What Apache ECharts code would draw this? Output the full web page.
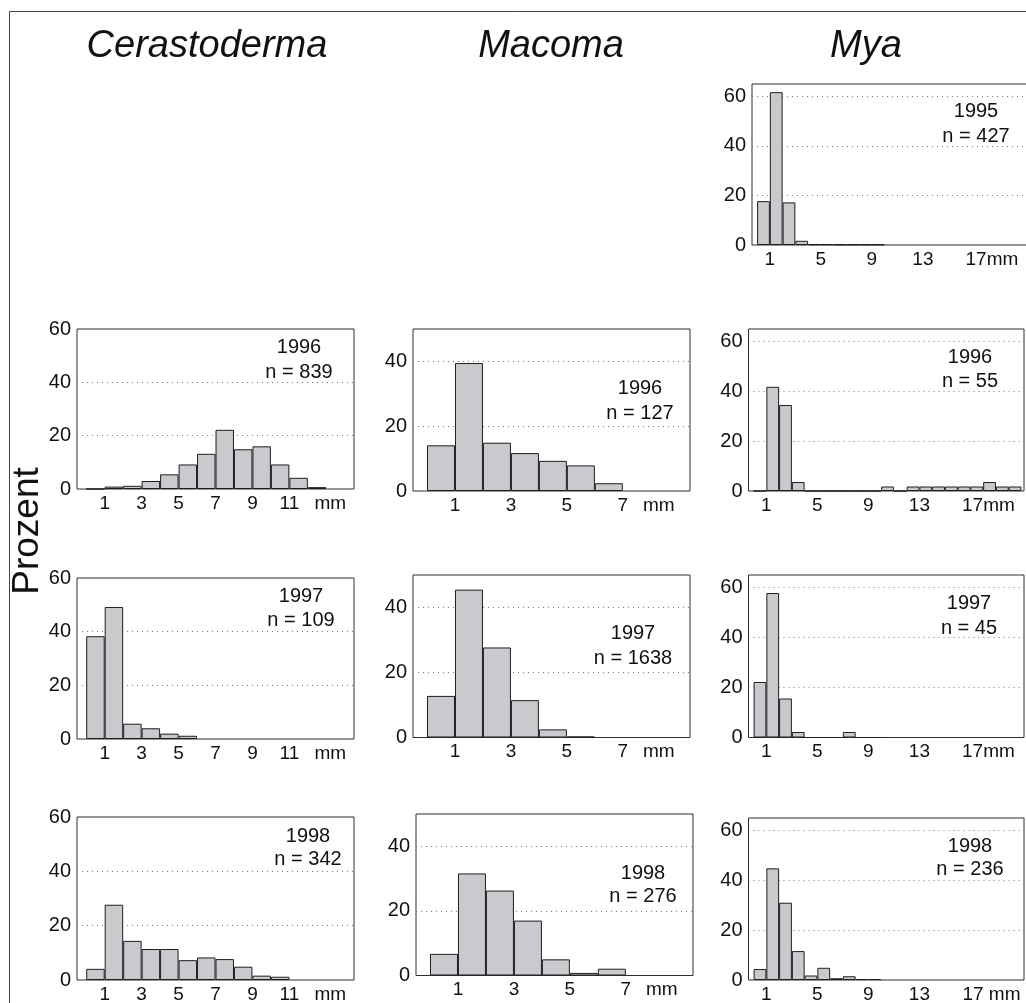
<!DOCTYPE html>
<html>
<head>
<meta charset="utf-8">
<script src="https://cdn.jsdelivr.net/npm/echarts@6/dist/echarts.min.js"></script>
<style>html,body{margin:0;padding:0;background:#fff}#c{width:1026px;height:1003px}</style>
</head>
<body>
<div id="c"></div>
<script>
const FONT = '"Liberation Sans", Arial, Helvetica, sans-serif';

// Percent per 1-mm size class; element k is the class k..k+1 mm
const cerastoderma1996 = [0, 0.9, 1.2, 3.0, 5.5, 9.2, 13.2, 22.2, 14.9, 16.0, 9.2, 4.2, 0.7];
const cerastoderma1997 = [38.3, 49.2, 5.7, 4.0, 2.0, 1.2];
const cerastoderma1998 = [4.1, 27.7, 14.4, 11.4, 11.4, 7.3, 8.3, 7.7, 4.9, 1.6, 1.2];
const macoma1996 = [14.1, 39.5, 14.9, 11.7, 9.3, 7.9, 2.4];
const macoma1997 = [12.8, 45.5, 27.7, 11.5, 2.5, 0.3];
const macoma1998 = [6.7, 31.6, 26.3, 17.0, 5.0, 0.8, 2.1];
const mya1995 = [17.7, 61.7, 17.2, 1.7, 0.3, 0.3, 0.2, 0.2, 0.2, 0.2];
const mya1996 = [0, 41.8, 34.5, 3.6, 0, 0, 0, 0, 0, 0, 1.8, 0, 1.8, 1.8, 1.8, 1.8, 1.8, 1.8, 3.6, 1.8, 1.8];
const mya1997 = [22.2, 57.8, 15.6, 2.2, 0, 0, 0, 2.2, 0, 0];
const mya1998 = [4.4, 44.8, 31.0, 11.6, 1.8, 4.9, 0.7, 1.5, 0.4, 0.4];

const speciesNames = ['Cerastoderma', 'Macoma', 'Mya'];
const cerXTicks = [1, 3, 5, 7, 9, 11, 13];
const macXTicks = [1, 3, 5, 7, 8];
const myaXTicks = [1, 5, 9, 13, 17];
const cerYTicks = [0, 20, 40, 60];
const macYTicks = [0, 20, 40];
const myaYTicks = [0, 20, 40, 60];
const yAxisTitle = 'Prozent';

// column settings (axes)
const cols = [
  { xMin: -0.5, xMax: 14.5, yMax: 60, xTicks: cerXTicks, yTicks: cerYTicks, grid: [20, 40], unitAt: 13, unitPad: 8 },
  { xMin: -0.5, xMax: 9.4, yMax: 50, xTicks: macXTicks, yTicks: macYTicks, grid: [20, 40], unitAt: 8, unitPad: 16 },
  { xMin: -0.4, xMax: 21.2, yMax: 65, xTicks: myaXTicks, yTicks: myaYTicks, grid: [20, 40, 60], unitAt: 17, unitPad: 36 }
];

// panels: data, label, layout
const panels = [
  { d: mya1995, year: '1995', n: 427, col: 2, unit: '17mm', g: [752, 84, 275.5, 161], ann: [976, 118, 143] },
  { d: cerastoderma1996, year: '1996', n: 839, col: 0, unit: 'mm', g: [77, 329, 277, 160], ann: [299, 354, 379] },
  { d: macoma1996, year: '1996', n: 127, col: 1, unit: 'mm', g: [413, 329, 277, 162], ann: [640, 395, 420] },
  { d: mya1996, year: '1996', n: 55, col: 2, unit: '17mm', g: [748.5, 329, 275.5, 162], ann: [970, 364, 388] },
  { d: cerastoderma1997, year: '1997', n: 109, col: 0, unit: 'mm', g: [77, 578, 277, 161], ann: [301, 603, 627] },
  { d: macoma1997, year: '1997', n: 1638, col: 1, unit: 'mm', g: [413, 575, 277, 162.5], ann: [633, 640, 665] },
  { d: mya1997, year: '1997', n: 45, col: 2, unit: '17mm', g: [748.5, 575, 275.5, 162.5], ann: [969, 610, 635] },
  { d: cerastoderma1998, year: '1998', n: 342, col: 0, unit: 'mm', g: [77, 817, 277, 163], ann: [308, 843, 866] },
  { d: macoma1998, year: '1998', n: 276, col: 1, unit: 'mm', g: [416, 814, 277, 161.5], ann: [643, 880, 903] },
  { d: mya1998, year: '1998', n: 236, col: 2, unit: '17 mm', g: [748.5, 818, 275.5, 162], ann: [970, 853, 876], unitPad: 42 }
];

const grids = [], xAxes = [], yAxes = [], series = [], graphics = [];

panels.forEach((p, i) => {
  const c = cols[p.col];
  grids.push({
    left: p.g[0], top: p.g[1], width: p.g[2], height: p.g[3],
    show: true, borderColor: '#2e2e2e', borderWidth: 1, backgroundColor: 'transparent',
    containLabel: false, outerBoundsMode: 'none'
  });
  const unitPad = p.unitPad != null ? p.unitPad : c.unitPad;
  xAxes.push({
    gridIndex: i, type: 'value', min: c.xMin, max: c.xMax,
    axisLine: { show: false }, axisTick: { show: false }, splitLine: { show: false },
    axisLabel: {
      customValues: c.xTicks, margin: 5, fontSize: 19, fontFamily: FONT, color: '#111',
      formatter: v => (v === c.unitAt ? '{u|' + p.unit + '}' : String(v)),
      rich: { u: { fontSize: 19, fontFamily: FONT, color: '#111', padding: [0, 0, 0, unitPad] } }
    }
  });
  yAxes.push({
    gridIndex: i, type: 'value', min: 0, max: c.yMax,
    axisLine: { show: false },
    axisTick: { show: false, customValues: c.grid },
    splitLine: { show: true, lineStyle: { color: '#777', width: 1, type: [1, 4] } },
    axisLabel: { customValues: c.yTicks, margin: 6, fontSize: 20, fontFamily: FONT, color: '#111' }
  });
  series.push({
    type: 'bar', xAxisIndex: i, yAxisIndex: i, barWidth: '100%',
    data: p.d.map((v, k) => [k + 0.5, v]),
    itemStyle: { color: '#c9cacd', borderColor: '#1e1e1e', borderWidth: 1 },
    silent: true, animation: false
  });
  graphics.push({
    type: 'text', x: p.ann[0], y: p.ann[1] - 7,
    style: { text: p.year, fontSize: 20, fontFamily: FONT, fill: '#111',
      align: 'center', verticalAlign: 'middle', textAlign: 'center', textVerticalAlign: 'middle' }
  });
  graphics.push({
    type: 'text', x: p.ann[0], y: p.ann[2] - 7,
    style: { text: 'n = ' + p.n, fontSize: 20, fontFamily: FONT, fill: '#111',
      align: 'center', verticalAlign: 'middle', textAlign: 'center', textVerticalAlign: 'middle' }
  });
});

// outer frame
graphics.push({
  type: 'rect', shape: { x: 9.5, y: 11.5, width: 1200, height: 1200 },
  style: { fill: 'none', stroke: '#444', lineWidth: 1 }, silent: true
});
// column titles
const titleX = [207, 551, 866];
speciesNames.forEach((s, i) => {
  graphics.push({
    type: 'text', x: titleX[i], y: 46,
    style: { text: s, fontSize: 38, fontStyle: 'italic', fontFamily: FONT, fill: '#111',
      align: 'center', verticalAlign: 'middle', textAlign: 'center', textVerticalAlign: 'middle' }
  });
});
// y axis title
graphics.push({
  type: 'text', x: 27.5, y: 531, rotation: Math.PI / 2,
  style: { text: yAxisTitle, fontSize: 37, fontFamily: FONT, fill: '#111',
    align: 'center', verticalAlign: 'middle', textAlign: 'center', textVerticalAlign: 'middle' }
});

const chart = echarts.init(document.getElementById('c'), null, { renderer: 'canvas', width: 1026, height: 1003 });
chart.setOption({
  animation: false,
  backgroundColor: '#fff',
  grid: grids, xAxis: xAxes, yAxis: yAxes, series: series,
  graphic: { elements: graphics }
});
</script>
</body>
</html>
